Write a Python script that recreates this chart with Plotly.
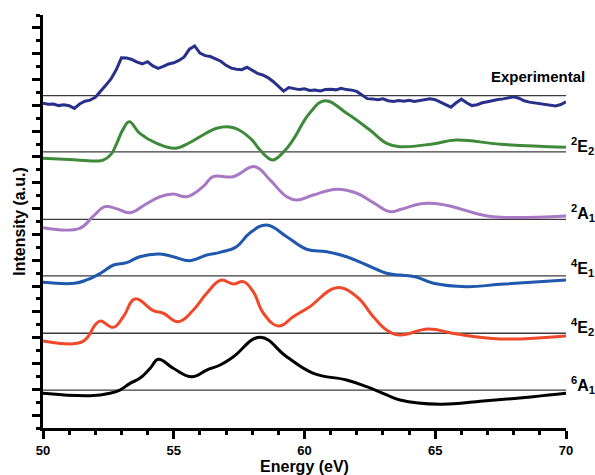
import plotly.graph_objects as go

# ---------------- data ----------------
energy_exp = [50.0, 50.2, 50.4, 50.6, 50.8, 51.0, 51.2, 51.4, 51.6, 51.8, 52.0, 52.2, 52.4, 52.6, 52.8,
              53.0, 53.2, 53.4, 53.6, 53.8, 54.0, 54.2, 54.4, 54.6, 54.8, 55.0, 55.2, 55.4, 55.6, 55.8,
              56.0, 56.2, 56.4, 56.6, 56.8, 57.0, 57.2, 57.4, 57.6, 57.8, 58.0, 58.2, 58.4, 58.6, 58.8,
              59.0, 59.2, 59.4, 59.6, 59.8, 60.0, 60.2, 60.4, 60.6, 60.8, 61.0, 61.2, 61.4, 61.6, 61.8,
              62.0, 62.2, 62.4, 62.6, 62.8, 63.0, 63.2, 63.4, 63.6, 63.8, 64.0, 64.2, 64.4, 64.6, 64.8,
              65.0, 65.2, 65.4, 65.6, 65.8, 66.0, 66.2, 66.4, 66.6, 66.8, 67.0, 67.2, 67.4, 67.6, 67.8,
              68.0, 68.2, 68.4, 68.6, 68.8, 69.0, 69.2, 69.4, 69.6, 69.8, 70.0]
intensity_exp = [25.16, 25.08, 25.10, 24.98, 25.05, 24.97, 24.76, 25.10, 25.32, 25.40, 25.62, 26.05, 26.55, 27.05, 27.75,
                 28.68, 28.66, 28.55, 28.35, 28.22, 28.38, 28.05, 27.86, 28.02, 28.20, 28.30, 28.48, 28.75, 29.35, 29.60,
                 29.05, 28.85, 28.78, 28.60, 28.42, 28.10, 27.88, 27.80, 27.76, 27.95, 27.70, 27.48, 27.35, 27.15, 26.85,
                 26.45, 26.10, 26.38, 26.30, 26.22, 26.28, 26.15, 26.18, 26.12, 26.22, 26.25, 26.20, 26.32, 26.22, 26.18,
                 26.08, 25.80, 25.52, 25.50, 25.44, 25.50, 25.36, 25.30, 25.38, 25.32, 25.40, 25.30, 25.36, 25.42, 25.50,
                 25.44, 25.25, 25.02, 24.86, 25.20, 25.48, 25.20, 24.98, 25.05, 25.20, 25.28, 25.38, 25.45, 25.50, 25.58,
                 25.66, 25.55, 25.35, 25.25, 25.20, 25.12, 25.08, 25.02, 24.96, 25.06, 25.28]

energy_2E2 = [50, 51, 52, 52.3, 52.6, 52.82, 53.05, 53.3, 53.7, 54.35, 55.05, 55.6, 56.2, 56.64, 57.15, 57.5,
              58.0, 58.3, 58.78, 59.2, 59.56, 60.2, 60.78, 61.6, 62.5, 63.14, 63.65, 64.9, 65.8, 67.5, 70]
intensity_2E2 = [20.90, 20.80, 20.69, 20.75, 21.2, 22.06, 23.1, 23.73, 22.83, 22.06, 21.67, 22.1, 22.8, 23.22, 23.32, 23.09,
                 22.3, 21.54, 20.77, 21.4, 22.32, 24.41, 25.36, 24.41, 23.09, 22.06, 21.80, 22.01, 22.32, 21.98, 21.75]

energy_2A1 = [50, 51.4, 51.9, 52.37, 52.8, 53.33, 53.9, 54.47, 54.97, 55.5, 56.12, 56.5, 57.27, 58.1, 58.68, 59.32,
              59.7, 60.34, 61.23, 62.0, 62.63, 63.27, 63.7, 64.4, 64.8, 65.56, 66.46, 67.2, 70]
intensity_2A1 = [15.52, 15.47, 16.37, 17.15, 17.0, 16.68, 17.3, 17.92, 18.13, 17.92, 18.70, 19.47, 19.47, 20.25, 19.22, 17.92,
                 17.67, 18.05, 18.50, 18.19, 17.46, 16.76, 16.95, 17.36, 17.41, 17.20, 16.68, 16.37, 16.43]

energy_4E1 = [50, 51.2, 51.67, 52.2, 52.7, 53.2, 53.7, 54.47, 54.98, 55.62, 56.26, 56.77, 57.4, 57.9, 58.55, 59.32,
              60.08, 60.85, 61.61, 62.38, 63.14, 63.65, 64.23, 64.93, 66.2, 67.48, 70]
intensity_4E1 = [11.29, 11.21, 11.47, 11.99, 12.63, 12.81, 13.27, 13.48, 13.27, 12.96, 13.40, 13.61, 14.05, 15.09, 15.73, 14.82,
                 13.85, 13.66, 13.27, 12.63, 11.99, 11.85, 11.72, 11.21, 10.95, 11.13, 11.47]

energy_4E2 = [50, 51.3, 51.67, 51.99, 52.2, 52.69, 53.07, 53.52, 54.22, 54.6, 55.17, 55.75, 56.26, 56.8, 57.28, 57.66,
              58.04, 58.43, 59.0, 59.57, 60.2, 61.23, 62.0, 62.63, 63.14, 63.65, 64.73, 65.82, 67.48, 70]
intensity_4E2 = [6.74, 6.56, 6.95, 7.98, 8.29, 7.80, 8.62, 10.0, 9.09, 8.89, 8.24, 9.14, 10.44, 11.45, 11.16, 11.34,
                 10.56, 8.89, 7.90, 8.62, 9.40, 10.87, 10.17, 8.62, 7.59, 7.21, 7.67, 7.28, 6.90, 7.13]

energy_6A1 = [50, 51.8, 52.56, 52.94, 53.33, 53.7, 54.1, 54.41, 54.98, 55.69, 56.26, 56.77, 57.28, 58.3, 59.32, 60.34,
              61.61, 62.38, 63.14, 63.65, 65.18, 66.84, 68.75, 70]
intensity_6A1 = [2.69, 2.50, 2.69, 2.94, 3.46, 3.85, 4.63, 5.32, 4.63, 3.97, 4.49, 4.88, 5.52, 7.03, 5.52, 4.24,
                 3.72, 3.20, 2.56, 2.17, 1.84, 2.09, 2.43, 2.69]

baselines = [25.75, 21.39, 16.17, 11.78, 7.34, 2.94]
label_texts = ["Experimental", "<sup>2</sup>E<sub>2</sub>", "<sup>2</sup>A<sub>1</sub>",
               "<sup>4</sup>E<sub>1</sub>", "<sup>4</sup>E<sub>2</sub>", "<sup>6</sup>A<sub>1</sub>"]
label_y = [27.2, 21.85, 16.66, 12.40, 7.83, 3.33]

x_ticks = [50, 55, 60, 65, 70]

# ---------------- figure ----------------
fig = go.Figure()

for yb in baselines:
    fig.add_shape(type="line", xref="x", yref="y", x0=50, x1=70, y0=yb, y1=yb,
                  line=dict(color="#3c3c3c", width=1.3), layer="below")

fig.add_trace(go.Scatter(x=energy_exp, y=intensity_exp, mode="lines",
                         line=dict(color="#27318a", width=3)))
series = [
    (energy_2E2, intensity_2E2, "#3f8a3a"),
    (energy_2A1, intensity_2A1, "#a778c4"),
    (energy_4E1, intensity_4E1, "#1f58ad"),
    (energy_4E2, intensity_4E2, "#f0482a"),
    (energy_6A1, intensity_6A1, "#000000"),
]
for ex, iy, col in series:
    fig.add_trace(go.Scatter(x=ex, y=iy, mode="lines",
                             line=dict(color=col, width=3, shape="spline", smoothing=1.2)))

fig.add_annotation(x=1.04, xref="paper", y=label_y[0], yref="y", text=label_texts[0],
                   showarrow=False, xanchor="right", yanchor="middle",
                   font=dict(size=15, color="black", family="Liberation Sans, Arial", weight="bold"))
for txt, yy in zip(label_texts[1:], label_y[1:]):
    fig.add_annotation(x=1.005, xref="paper", y=yy, yref="y", text=txt,
                       showarrow=False, xanchor="left", yanchor="middle",
                       font=dict(size=16, color="black", family="Liberation Sans, Arial", weight="bold"))

fig.update_layout(
    width=595, height=475,
    margin=dict(l=43, r=29, t=15, b=47),
    paper_bgcolor="white", plot_bgcolor="white",
    showlegend=False,
    font=dict(family="Liberation Sans, Arial", color="black", weight="bold"),
    xaxis=dict(range=[50, 70], tickvals=x_ticks, ticks="outside", ticklen=8, tickwidth=2.5,
               tickcolor="black", showline=True, linecolor="black", linewidth=3,
               showgrid=False, zeroline=False, tickfont=dict(size=13, weight="bold"),
               automargin=False,
               minor=dict(dtick=1, tick0=50, ticks="outside", ticklen=4, tickwidth=2.5, tickcolor="black"),
               title=dict(text="Energy (eV)", font=dict(size=16, weight="bold"), standoff=4)),
    yaxis=dict(range=[0, 32], tickvals=list(range(1, 32, 2)), ticks="outside", ticklen=8, tickwidth=2.5,
               tickcolor="black", showline=True, linecolor="black", linewidth=3,
               showgrid=False, zeroline=False, showticklabels=False, automargin=False,
               minor=dict(tickvals=list(range(0, 33, 2)), ticks="outside", ticklen=4, tickwidth=2.5,
                          tickcolor="black"),
               title=dict(text="Intensity (a.u.)", font=dict(size=16, weight="bold"), standoff=3)),
)

fig.write_html("out.html")
